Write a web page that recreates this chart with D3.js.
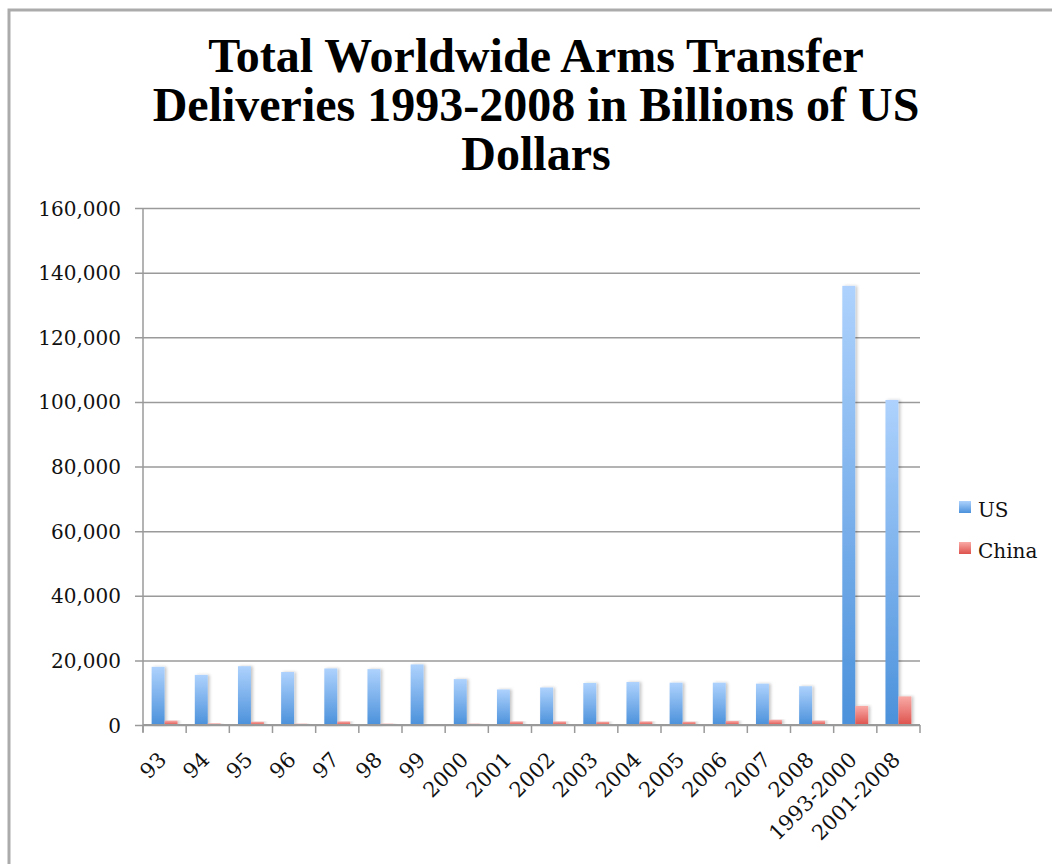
<!DOCTYPE html>
<html>
<head>
<meta charset="utf-8">
<script src="https://cdn.jsdelivr.net/npm/d3@7"></script>
<style>
  body { margin: 0; background: #fff; }
  svg { display: block; }
  .tick-label { font-family: "DejaVu Serif", serif; font-size: 19px; fill: #111; }
  .title { font-family: "Liberation Serif", serif; font-weight: bold; font-size: 48px; fill: #000; }
</style>
</head>
<body>
<div id="chart"></div>
<script>
// categories and values
var categories = ["93", "94", "95", "96", "97", "98", "99", "2000", "2001", "2002",
  "2003", "2004", "2005", "2006", "2007", "2008", "1993-2000", "2001-2008"];
var usValues = [18000, 15500, 18200, 16400, 17500, 17300, 18750, 14200, 11000, 11600,
  13000, 13300, 13100, 13100, 12800, 12000, 135900, 100600];
var chinaValues = [1350, 500, 1000, 400, 1100, 400, 100, 400, 1100, 1100,
  1000, 1100, 1000, 1250, 1600, 1350, 5900, 8850];
var seriesNames = ["US", "China"];
var yTicks = [0, 20000, 40000, 60000, 80000, 100000, 120000, 140000, 160000];
var titleLines = ["Total Worldwide Arms Transfer", "Deliveries 1993-2008 in Billions of US", "Dollars"];

(function () {
  var W = 1052, H = 864;
  var plotLeft = 143, plotRight = 920, plotTop = 208, plotBottom = 725;

  var svg = d3.select("#chart").append("svg")
    .attr("width", W)
    .attr("height", H);

  var defs = svg.append("defs");
  var grads = [
    {id: "gUS", top: "#aed2fd", bottom: "#4b91db"},
    {id: "gChina", top: "#f9aaa6", bottom: "#de524d"}
  ];
  grads.forEach(function (g) {
    var lg = defs.append("linearGradient")
      .attr("id", g.id)
      .attr("x1", 0).attr("y1", 0).attr("x2", 0).attr("y2", 1);
    lg.append("stop").attr("offset", "0%").attr("stop-color", g.top);
    lg.append("stop").attr("offset", "100%").attr("stop-color", g.bottom);
  });
  var shadow = defs.append("filter").attr("id", "shadow")
    .attr("x", "-30%").attr("y", "-5%").attr("width", "170%").attr("height", "110%");
  shadow.append("feDropShadow")
    .attr("dx", 2).attr("dy", 0).attr("stdDeviation", 1.5)
    .attr("flood-color", "#000").attr("flood-opacity", 0.22);

  // outer border (only left & top are inside the picture)
  svg.append("rect")
    .attr("x", 9).attr("y", 10)
    .attr("width", W + 20).attr("height", H + 20)
    .attr("fill", "none")
    .attr("stroke", "#ababab")
    .attr("stroke-width", 3);

  // title
  svg.append("text")
    .attr("class", "title")
    .attr("text-anchor", "middle")
    .selectAll("tspan")
    .data(titleLines)
    .enter().append("tspan")
    .attr("x", 536)
    .attr("y", function (d, i) { return 72 + i * 49; })
    .text(function (d) { return d; });

  var x0 = d3.scaleBand()
    .domain(categories)
    .range([plotLeft, plotRight])
    .paddingInner(0.4)
    .paddingOuter(0.2);

  var x1 = d3.scaleBand()
    .domain(seriesNames)
    .range([0, x0.bandwidth()]);

  var y = d3.scaleLinear()
    .domain([0, 160000])
    .range([plotBottom, plotTop]);

  // gridlines + y tick labels
  var yAxis = d3.axisLeft(y)
    .tickValues(yTicks)
    .tickFormat(d3.format(","))
    .tickSize(-(plotRight - plotLeft + 8))
    .tickPadding(16);

  var gy = svg.append("g")
    .attr("transform", "translate(" + (plotLeft - 8) + ",0)")
    .call(yAxis);
  gy.select(".domain").remove();
  gy.selectAll(".tick line")
    .attr("stroke", "#9a9a9a")
    .attr("stroke-width", 1.5);
  gy.selectAll(".tick text")
    .attr("class", "tick-label")
    .style("font-size", "20px")
    .attr("x", -14)
    .attr("dy", "0.35em");

  // y axis line
  svg.append("line")
    .attr("x1", plotLeft).attr("x2", plotLeft)
    .attr("y1", plotTop).attr("y2", plotBottom + 7)
    .attr("stroke", "#9a9a9a")
    .attr("stroke-width", 1.5);

  var rows = categories.map(function (c, i) {
    return {cat: c, vals: [usValues[i], chinaValues[i]]};
  });

  var groups = svg.selectAll(".grp")
    .data(rows)
    .enter().append("g")
    .attr("class", "grp")
    .attr("transform", function (d) { return "translate(" + x0(d.cat) + ",0)"; });

  groups.selectAll("rect")
    .data(function (d) { return d.vals.map(function (v, k) { return {name: seriesNames[k], v: v}; }); })
    .enter().append("rect")
    .attr("x", function (d) { return x1(d.name); })
    .attr("y", function (d) { return y(d.v); })
    .attr("width", x1.bandwidth())
    .attr("height", function (d) { return plotBottom - y(d.v); })
    .attr("fill", function (d) { return d.name === "US" ? "url(#gUS)" : "url(#gChina)"; })
    .attr("filter", "url(#shadow)");

  // x axis line and tick marks between categories
  svg.append("line")
    .attr("x1", plotLeft).attr("x2", plotRight)
    .attr("y1", plotBottom).attr("y2", plotBottom)
    .attr("stroke", "#9a9a9a")
    .attr("stroke-width", 2);

  var step = x0.step();
  svg.selectAll(".xtick")
    .data(d3.range(categories.length + 1))
    .enter().append("line")
    .attr("class", "xtick")
    .attr("x1", function (i) { return plotLeft + i * step; })
    .attr("x2", function (i) { return plotLeft + i * step; })
    .attr("y1", plotBottom)
    .attr("y2", plotBottom + 8)
    .attr("stroke", "#9a9a9a")
    .attr("stroke-width", 1.5);

  // rotated category labels
  svg.selectAll(".xlabel")
    .data(categories)
    .enter().append("text")
    .attr("class", "tick-label")
    .style("font-size", "21px")
    .attr("text-anchor", "end")
    .attr("transform", function (d) {
      return "translate(" + (x0(d) + x0.bandwidth() / 2 + 3) + "," + 761 + ") rotate(-45)";
    })
    .text(function (d) { return d; });

  // legend
  var legend = svg.selectAll(".legend")
    .data(seriesNames)
    .enter().append("g")
    .attr("class", "legend")
    .attr("transform", function (d, i) { return "translate(959," + (501 + i * 41) + ")"; });
  legend.append("rect")
    .attr("width", 12).attr("height", 12)
    .attr("fill", function (d) { return d === "US" ? "url(#gUS)" : "url(#gChina)"; });
  legend.append("text")
    .attr("class", "tick-label")
    .style("font-size", "20px")
    .attr("x", 19)
    .attr("y", 16)
    .text(function (d) { return d; });
})();
</script>
</body>
</html>
